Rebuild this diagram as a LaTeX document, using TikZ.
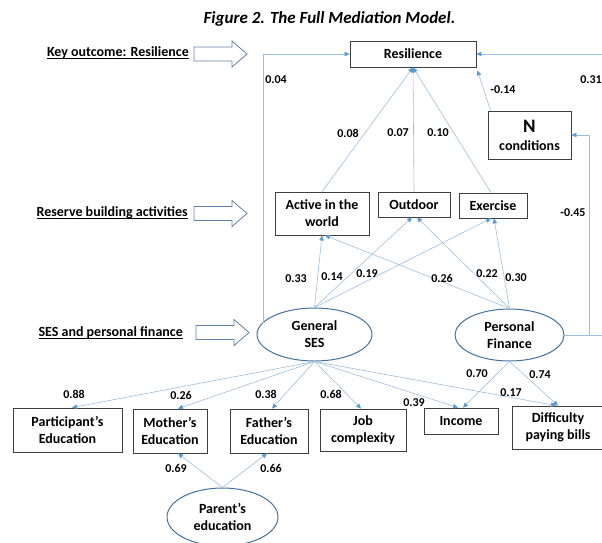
\documentclass[tikz,border=0pt]{standalone}
\usepackage{fontspec}
\setmainfont{Carlito}
\usetikzlibrary{arrows.meta,shapes.geometric}
\definecolor{connblue}{HTML}{9DBFDF}
\definecolor{tipblue}{HTML}{5B9BD5}
\definecolor{ringblue}{HTML}{41719C}
\definecolor{boxgray}{HTML}{3F3F3F}
\definecolor{arrowedge}{HTML}{5F82A8}
% underline at a fixed depth below the baseline, crossing descenders
\newcommand\capline[1]{\sbox0{#1}\usebox0\llap{\rule[-2.4pt]{\wd0}{0.8pt}}}
\begin{document}
\begin{tikzpicture}[x=1pt,y=-1pt,
  every node/.style={font=\fontsize{14}{17}\selectfont\bfseries, inner sep=0pt, align=center},
  box/.style={draw=boxgray, line width=0.8pt, rectangle},
  latent/.style={draw=ringblue, line width=1pt, ellipse},
  num/.style={font=\fontsize{12}{14}\selectfont\bfseries},
  side/.style={font=\fontsize{14}{17}\selectfont\bfseries, anchor=east},
  conn/.style={draw=connblue, line width=0.6pt,
    -{Triangle[length=5pt,width=4.5pt,color=tipblue]}},
  barrow/.pic={\draw[arrowedge, line width=0.8pt, fill=white]
    (0,-7) -- (38,-7) -- (38,-13) -- (53,0) -- (38,13) -- (38,7) -- (0,7) -- cycle;}]
\useasboundingbox (0,0) rectangle (602,542);
\clip (0,0) rectangle (602,542);

% title
\node[font=\fontsize{17}{20}\selectfont\bfseries\itshape] (title) at (329.5,19)
  {Figure 2. The Full Mediation Model.};

% row captions with block arrows
\node[side] (capres) at (189,53) {\capline{Key outcome: Resilience}};
\node[side] (capact) at (188,213) {\capline{Reserve building activities}};
\node[side] (capses) at (183,333) {\capline{SES and personal finance}};
\pic at (194,54) {barrow};
\pic at (194,213.5) {barrow};
\pic at (196,332.5) {barrow};

% outcome and mediators
\node[box, minimum width=126pt, minimum height=26pt] (res) at (413,54) {Resilience};
\node[box, minimum width=83pt, minimum height=48pt] (ncond) at (529.5,135)
  {{\fontsize{19}{20}\selectfont N}\\[1pt]conditions};
\node[box, minimum width=94pt, minimum height=43pt] (act) at (322,213.5) {Active in the\\world};
\node[box, minimum width=72pt, minimum height=25pt] (outd) at (414,204.5) {Outdoor};
\node[box, minimum width=68pt, minimum height=25pt] (exer) at (493,205.5) {Exercise};

% latent factors
\node[latent, minimum width=115pt, minimum height=53pt] (gses) at (314.5,334.5) {General\\SES};
\node[latent, minimum width=109pt, minimum height=52pt] (pfin) at (509.5,335) {Personal\\Finance};
\node[latent, minimum width=111pt, minimum height=58pt] (pare) at (222.5,517) {Parent’s\\education};

% indicators
\node[box, minimum width=109pt, minimum height=44pt] (part) at (67.5,430) {Participant’s\\Education};
\node[box, minimum width=74pt, minimum height=44pt] (moth) at (170,431) {Mother’s\\Education};
\node[box, minimum width=78pt, minimum height=44pt] (fath) at (269,431) {Father’s\\Education};
\node[box, minimum width=86pt, minimum height=42pt] (job) at (363,430) {Job\\complexity};
\node[box, minimum width=74pt, minimum height=26pt] (inc) at (461,421) {Income};
\node[box, minimum width=92pt, minimum height=43pt] (diff) at (558,427.5) {Difficulty\\paying bills};

% routing points for the elbow paths
\coordinate (sesnw) at (263,322.5);
\coordinate (rtop) at (602.5,54);
\coordinate (ncol) at (589,135);

% direct paths to resilience
\draw[conn] (sesnw) |- (res.west);
\draw[conn] (pfin.east) -| (rtop) -- (res.east);
\draw[conn] (pfin.east) -| (ncol) -- (ncond.east);
\draw[conn] ([xshift=3pt]ncond.north west) -- ([xshift=1pt,yshift=-3pt]res.south east);
\draw[conn] (act.north) -- (res.south);
\draw[conn] (outd.north) -- (res.south);
\draw[conn] ([xshift=-2pt]exer.north) -- (res.south);

% SES and finance to activities
\draw[conn] (gses.north) -- (act.south);
\draw[conn] (gses.north) -- ([xshift=-2pt]outd.south);
\draw[conn] (gses.north) -- ([xshift=-2pt]exer.south);
\draw[conn] (pfin.north) -- ([xshift=3pt]act.south);
\draw[conn] (pfin.north) -- ([xshift=3pt]outd.south);
\draw[conn] (pfin.north) -- ([xshift=1pt]exer.south);

% measurement paths
\draw[conn] (gses.south) -- ([xshift=4.5pt]part.north);
\draw[conn] (gses.south) -- ([xshift=8pt]moth.north);
\draw[conn] (gses.south) -- ([xshift=3pt]fath.north);
\draw[conn] (gses.south) -- ([xshift=-2pt]job.north);
\draw[conn] (gses.south) -- ([xshift=-3pt]inc.north);
\draw[conn] (gses.south) -- ([xshift=-2pt]diff.north);
\draw[conn] (pfin.south) -- ([xshift=2pt]inc.north);
\draw[conn] (pfin.south) -- (diff.north);
\draw[conn] (pare.north) -- ([xshift=8pt]moth.south);
\draw[conn] (pare.north) -- ([xshift=-2pt]fath.south);

% path coefficients
\node[num] (c004) at (276,80) {0.04};
\node[num] (c031) at (591,80) {0.31};
\node[num] (c014n) at (503,90) {-0.14};
\node[num] (c008) at (348,133) {0.08};
\node[num] (c007) at (398,133) {0.07};
\node[num] (c010) at (438,133) {0.10};
\node[num] (c045) at (573,213) {-0.45};
\node[num] (c033) at (296,279) {0.33};
\node[num] (c014) at (332,277) {0.14};
\node[num] (c019) at (367,274) {0.19};
\node[num] (c026a) at (442,278) {0.26};
\node[num] (c022) at (487,274) {0.22};
\node[num] (c030) at (516,278) {0.30};
\node[num] (c088) at (74,394) {0.88};
\node[num] (c026b) at (181,395) {0.26};
\node[num] (c038) at (266,394) {0.38};
\node[num] (c068) at (331,394) {0.68};
\node[num] (c039) at (414,403) {0.39};
\node[num] (c017) at (511,393) {0.17};
\node[num] (c070) at (477,374) {0.70};
\node[num] (c074) at (540,375) {0.74};
\node[num] (c069) at (176,468) {0.69};
\node[num] (c066) at (271,468) {0.66};
\end{tikzpicture}
\end{document}
